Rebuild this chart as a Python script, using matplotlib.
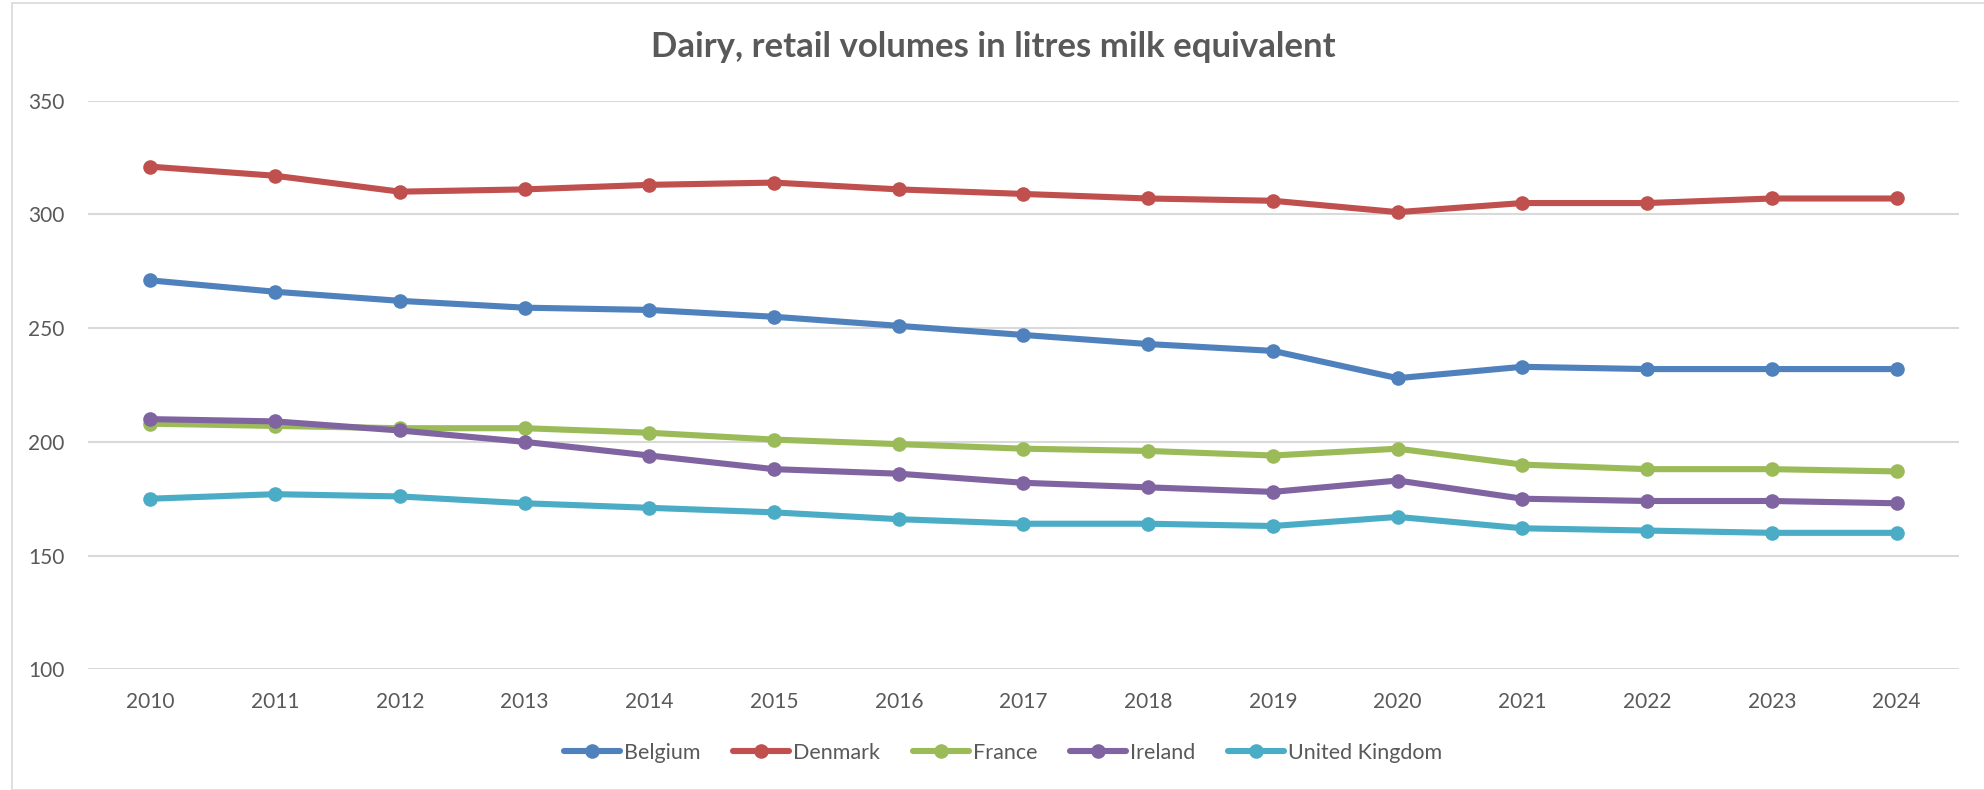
import matplotlib
matplotlib.use("Agg")
import matplotlib.pyplot as plt
from matplotlib.patches import Rectangle

years = [str(y) for y in range(2010, 2025)]
belgium = [271, 266, 262, 259, 258, 255, 251, 247, 243, 240, 228, 233, 232, 232, 232]
denmark = [321, 317, 310, 311, 313, 314, 311, 309, 307, 306, 301, 305, 305, 307, 307]
france = [208, 207, 206, 206, 204, 201, 199, 197, 196, 194, 197, 190, 188, 188, 187]
ireland = [210, 209, 205, 200, 194, 188, 186, 182, 180, 178, 183, 175, 174, 174, 173]
uk = [175, 177, 176, 173, 171, 169, 166, 164, 164, 163, 167, 162, 161, 160, 160]

series = [
    ("Belgium", belgium, "#4F81BD"),
    ("Denmark", denmark, "#C0504D"),
    ("France", france, "#9BBB59"),
    ("Ireland", ireland, "#8064A2"),
    ("United Kingdom", uk, "#4BACC6"),
]
yticks = [100, 150, 200, 250, 300, 350]

plt.rcParams['font.family'] = ['Lato', 'DejaVu Sans']
text_color = "#595959"

fig = plt.figure(figsize=(19.84, 7.90), dpi=100)
ax = fig.add_axes([88/1984, 1-669.3/790, (1959-88)/1984, (669.3-100.7)/790])

x = list(range(len(years)))
for name, vals, col in series:
    ax.plot(x, vals, color=col, lw=4.4, marker='o', markersize=10.5,
            markeredgewidth=0, label=name, solid_capstyle='round', zorder=3)

ax.set_xlim(-0.5, len(years) - 0.5)
ax.set_ylim(100, 350)
ax.set_yticks(yticks)
ax.set_xticks(x)
ax.set_xticklabels(years)
ax.grid(axis='y', color='#D9D9D9', lw=1.5, zorder=0)
for s in ax.spines.values():
    s.set_visible(False)
ax.tick_params(axis='both', length=0, labelsize=15, colors=text_color)
ax.tick_params(axis='y', pad=17)
ax.tick_params(axis='x', pad=16)

fig.text(0.5005, 1-47/790, "Dairy, retail volumes in litres milk equivalent",
         ha='center', va='center', fontsize=25, fontweight='bold', color=text_color)

leg = fig.legend(loc='center', bbox_to_anchor=(1003/1984, 1-753/790), ncol=5,
                 frameon=False, fontsize=15.5, handlelength=2.6, handletextpad=0.2,
                 columnspacing=1.5)
for t in leg.get_texts():
    t.set_color(text_color)

fig.patches.append(Rectangle((12/1984, 0), 1.2, 1 - 3/790, transform=fig.transFigure,
                             fill=False, edgecolor='#D9D9D9', lw=1.2))

fig.savefig("out.png", dpi=100)
